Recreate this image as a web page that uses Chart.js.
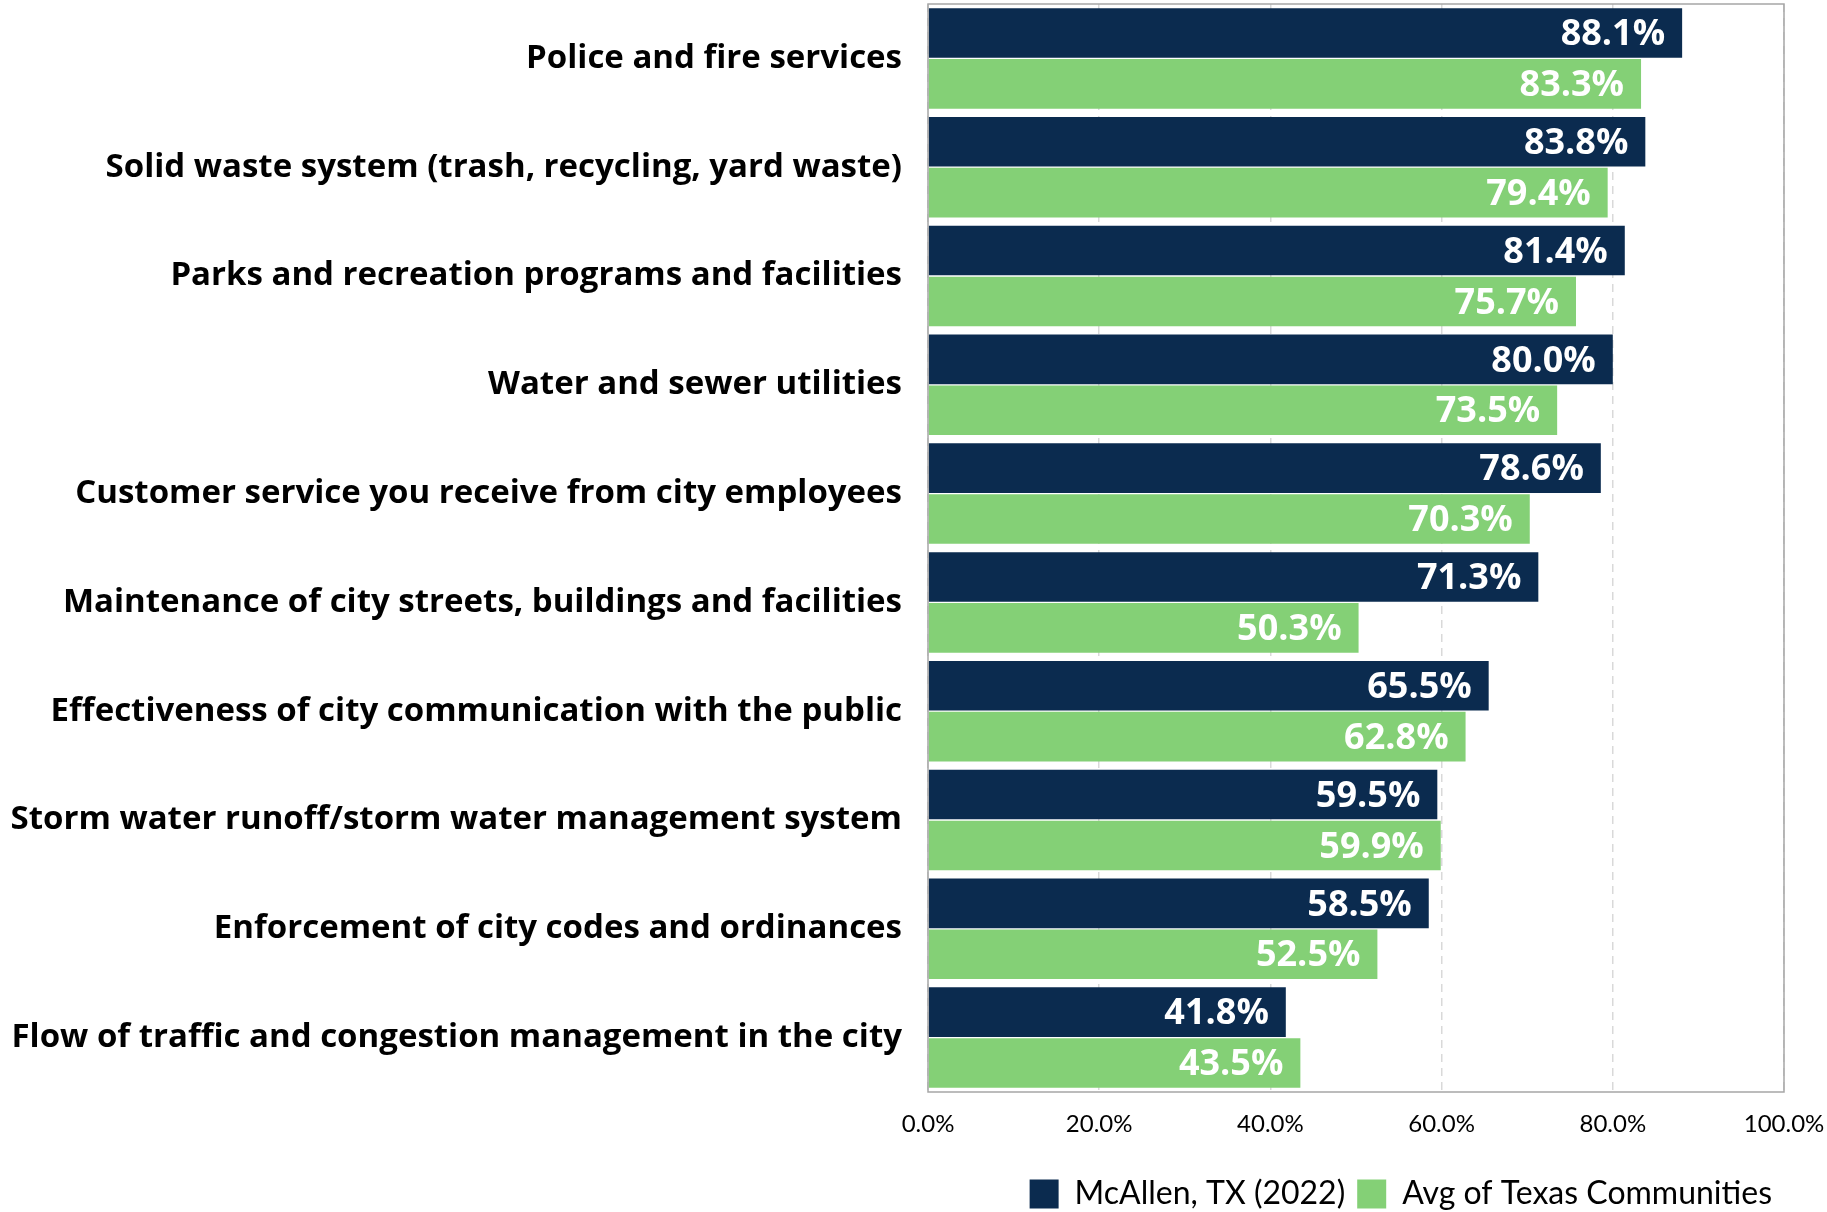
<!DOCTYPE html>
<html>
<head>
<meta charset="utf-8">
<script src="https://cdn.jsdelivr.net/npm/chart.js@4.4.0/dist/chart.umd.min.js"></script>
<style>
  html, body { margin: 0; padding: 0; background: #fff; }
  #wrap { width: 1827px; height: 1212px; position: relative; }
</style>
</head>
<body>
<div id="wrap"><canvas id="chart"></canvas></div>
<script>
var services = [
    'Police and fire services',
    'Solid waste system (trash, recycling, yard waste)',
    'Parks and recreation programs and facilities',
    'Water and sewer utilities',
    'Customer service you receive from city employees',
    'Maintenance of city streets, buildings and facilities',
    'Effectiveness of city communication with the public',
    'Storm water runoff/storm water management system',
    'Enforcement of city codes and ordinances',
    'Flow of traffic and congestion management in the city'
];
var mcallen = [88.1, 83.8, 81.4, 80.0, 78.6, 71.3, 65.5, 59.5, 58.5, 41.8];
var texasAvg = [83.3, 79.4, 75.7, 73.5, 70.3, 50.3, 62.8, 59.9, 52.5, 43.5];
var xTicks = ['0.0%', '20.0%', '40.0%', '60.0%', '80.0%', '100.0%'];

var FONT = '"Open Sans", Lato, sans-serif';

// white percentage text at the end of each bar
var barValues = {
    id: 'barValues',
    afterDatasetsDraw: function (chart) {
        var ctx = chart.ctx;
        ctx.save();
        ctx.fillStyle = '#fff';
        ctx.font = 'bold 36px ' + FONT;
        ctx.textAlign = 'right';
        ctx.textBaseline = 'middle';
        chart.data.datasets.forEach(function (ds, i) {
            chart.getDatasetMeta(i).data.forEach(function (bar, j) {
                ctx.fillText(ds.data[j].toFixed(1) + '%', bar.x - 17, bar.y + 2);
            });
        });
        ctx.restore();
    }
};

// grey frame round the plot area
var plotFrame = {
    id: 'plotFrame',
    afterDraw: function (chart) {
        var a = chart.chartArea;
        var ctx = chart.ctx;
        ctx.save();
        ctx.strokeStyle = '#a6a6a6';
        ctx.lineWidth = 1.5;
        ctx.strokeRect(a.left, a.top, a.right - a.left, a.bottom - a.top);
        ctx.restore();
    }
};

new Chart(document.getElementById('chart'), {
    type: 'bar',
    data: {
        labels: services,
        datasets: [
            {
                label: 'McAllen, TX (2022)',
                data: mcallen,
                backgroundColor: '#0b2b4f',
                barPercentage: 0.975,
                categoryPercentage: 0.935
            },
            {
                label: 'Avg of Texas Communities',
                data: texasAvg,
                backgroundColor: '#84d076',
                barPercentage: 0.975,
                categoryPercentage: 0.935
            }
        ]
    },
    options: {
        indexAxis: 'y',
        responsive: true,
        maintainAspectRatio: false,
        animation: false,
        layout: { padding: { top: 4, right: 0, bottom: -8, left: 0 } },
        scales: {
            x: {
                min: 0,
                max: 100,
                ticks: {
                    stepSize: 20,
                    padding: 18,
                    color: '#000',
                    font: { family: 'Lato, sans-serif', size: 24 },
                    callback: function (v, i) { return xTicks[i]; }
                },
                grid: {
                    color: '#d9d9d9',
                    lineWidth: 1.5,
                    drawTicks: false
                },
                border: { display: false, dash: [8, 6] },
                afterFit: function (s) {
                    s.height = 74;
                    s.paddingRight = 43;
                }
            },
            y: {
                ticks: {
                    padding: 26,
                    color: '#000',
                    font: { family: FONT, size: 33, weight: 'bold' }
                },
                grid: { display: false, drawTicks: false },
                border: { display: false },
                afterFit: function (s) {
                    s.width = 928;
                    s.paddingTop = 0;
                    s.paddingBottom = 0;
                }
            }
        },
        plugins: {
            legend: {
                position: 'bottom',
                align: 'end',
                fullSize: false,
                labels: {
                    color: '#000',
                    font: { family: 'Lato, sans-serif', size: 32 },
                    boxWidth: 29,
                    boxHeight: 29,
                    padding: 12
                }
            },
            tooltip: { enabled: false }
        }
    },
    plugins: [barValues, plotFrame]
});
</script>
</body>
</html>
